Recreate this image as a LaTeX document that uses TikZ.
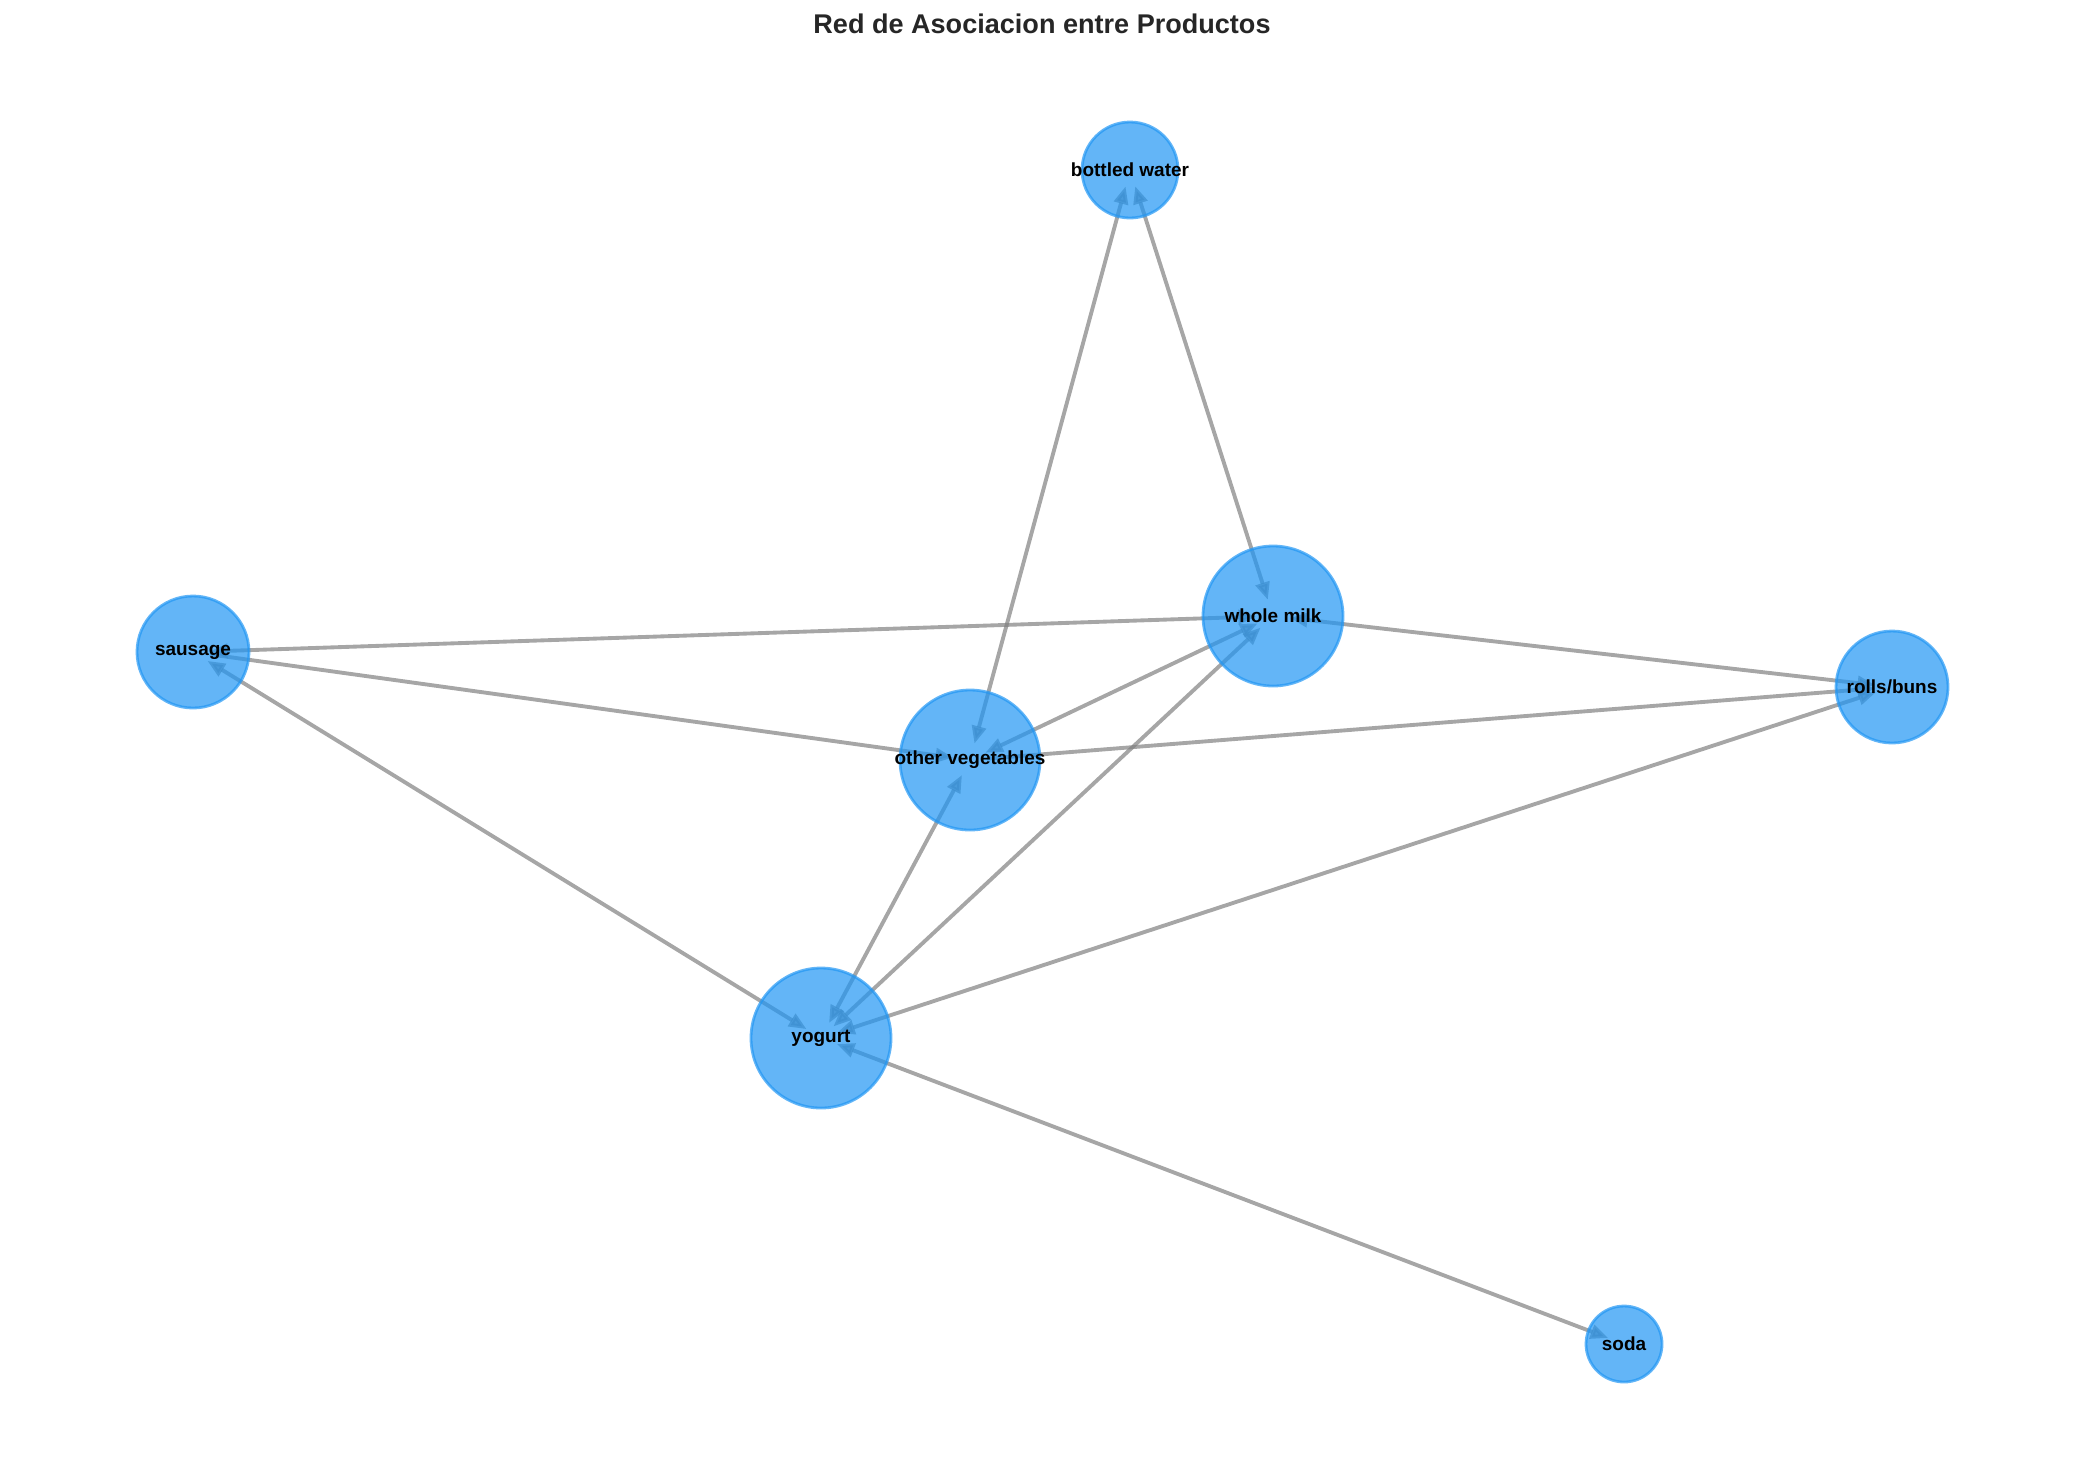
\documentclass[tikz,border=0pt]{standalone}
\usepackage{fontspec}
\setmainfont{Liberation Sans}
\usetikzlibrary{arrows.meta}
\pgfdeclarelayer{background}
\pgfsetlayers{background,main}
\definecolor{nodeblue}{HTML}{2196F3}

\begin{document}
\begin{tikzpicture}[>={Triangle[length=5pt,width=4pt]},
  item/.style={circle, draw=nodeblue, fill=nodeblue, fill opacity=0.7, draw opacity=0.7,
    line width=0.8pt, inner sep=0pt, outer sep=0pt, label=center:{#1}},
  every label/.style={inner sep=0pt, text=black, font=\bfseries\fontsize{5.4}{6}\selectfont},
  link/.style={gray, opacity=0.7, line width=1.1pt, shorten >=0.17cm, shorten <=0.17cm}]
  \useasboundingbox (0,0) rectangle (20.85,-14.83);

  \node[font=\bfseries\fontsize{7.7}{9}\selectfont, text=black!85] (title) at (10.42,-0.24) {Red de Asociacion entre Productos};

  % products
  \node[item=bottled water, minimum size=0.96cm] (bw) at (11.30,-1.70) {};
  \node[item=whole milk, minimum size=1.40cm] (wm) at (12.73,-6.16) {};
  \node[item=sausage, minimum size=1.12cm] (sa) at (1.93,-6.52) {};
  \node[item=rolls/buns, minimum size=1.12cm] (rb) at (18.92,-6.87) {};
  \node[item=other vegetables, minimum size=1.40cm] (ov) at (9.70,-7.60) {};
  \node[item=yogurt, minimum size=1.40cm] (yo) at (8.21,-10.38) {};
  \node[item=soda, minimum size=0.76cm] (so) at (16.24,-13.44) {};

  % rules
  \begin{pgfonlayer}{background}
  \draw[link, <->] (bw.center) -- (wm.center);
  \draw[link, <->] (bw.center) -- (ov.center);
  \draw[link, <->] (sa.center) -- (wm.center);
  \draw[link, ->] (sa.center) -- (ov.center);
  \draw[link, <->] (sa.center) -- (yo.center);
  \draw[link, <->] (wm.center) -- (ov.center);
  \draw[link, <->] (wm.center) -- (rb.center);
  \draw[link, <->] (wm.center) -- (yo.center);
  \draw[link, ->] (ov.center) -- (rb.center);
  \draw[link, <->] (ov.center) -- (yo.center);
  \draw[link, <->] (yo.center) -- (rb.center);
  \draw[link, <->] (yo.center) -- (so.center);
  \end{pgfonlayer}
\end{tikzpicture}
\end{document}
